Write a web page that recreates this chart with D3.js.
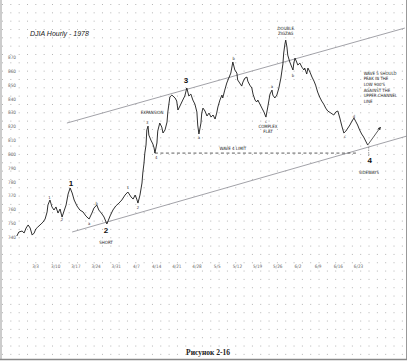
<!DOCTYPE html>
<html>
<head>
<meta charset="utf-8">
<script src="https://cdn.jsdelivr.net/npm/d3@7/dist/d3.min.js"></script>
<style>
  body { margin: 0; background: #fff; }
  svg { display: block; }
</style>
</head>
<body>
<svg id="chart" width="410" height="362"></svg>
<script>
// price axis labels
const priceTicks = [740, 750, 760, 770, 780, 790, 800, 810, 820, 830, 840, 850, 860, 870];
// date axis: trading day of each label + its text
const tickDays = [0, 5, 10, 15, 20, 25, 30, 35, 40, 45, 50, 55, 60, 65, 70, 75, 80];
const dateLabels = ["3/3", "3/10", "3/17", "3/24", "3/31", "4/7", "4/14", "4/21", "4/28",
  "5/5", "5/12", "5/19", "5/26", "6/2", "6/9", "6/16", "6/23"];

// hourly DJIA (trading day, index value)
const djiaDays = [-4.5, -4.0, -3.2, -2.7, -2.2, -1.7, -1.2, -0.7, -0.2, 0.2, 0.7, 1.5, 2.0, 2.5, 3.0, 3.2,
  3.7, 4.2, 4.7, 5.2, 5.7, 6.2, 6.7, 7.2, 7.7, 8.2, 8.7, 9.2, 9.7, 10.4, 11.1, 11.9, 12.6, 13.4, 14.1,
  14.6, 15.3, 15.8, 16.6, 17.1, 17.6, 17.8, 18.6, 19.3, 20.0, 20.8, 21.5, 22.3, 23.0, 23.8, 24.3, 24.8,
  25.2, 25.5, 26.0, 26.5, 26.7, 27.0, 27.2, 27.5, 27.7, 28.0, 28.2, 28.7, 29.2, 29.5, 29.7, 30.2, 30.4,
  30.9, 31.4, 31.7, 32.2, 32.7, 32.9, 33.4, 33.9, 34.7, 35.1, 35.4, 35.9, 36.6, 37.1, 37.6, 38.1, 38.6,
  39.1, 39.6, 40.1, 40.3, 40.6, 41.1, 41.3, 41.6, 42.1, 42.6, 43.1, 43.6, 44.1, 44.6, 45.0, 45.3, 45.8,
  46.3, 46.5, 47.0, 47.5, 48.0, 48.5, 49.0, 49.5, 50.0, 50.2, 50.7, 51.2, 51.5, 52.0, 52.5, 52.7, 53.2,
  53.7, 54.0, 54.5, 54.9, 55.2, 55.7, 56.2, 56.7, 57.2, 57.7, 58.2, 58.7, 58.9, 59.4, 59.9, 60.4, 60.9,
  61.4, 61.6, 61.9, 62.1, 62.4, 62.6, 63.1, 63.6, 63.9, 64.1, 64.4, 64.8, 65.1, 65.6, 66.1, 66.6, 66.8,
  67.3, 67.6, 68.1, 68.6, 69.1, 69.5, 70.0, 70.5, 71.0, 71.5, 72.0, 72.5, 73.3, 74.0, 74.5, 75.0, 75.5,
  76.0, 76.5, 77.0, 77.5, 78.0, 78.5, 79.0, 79.4, 79.9, 80.4, 80.9, 81.4, 81.9, 82.4];
const djiaValues = [740.7, 743.6, 744.3, 742.9, 746.5, 748.7, 746.5, 741.4, 742.9, 745.8, 747.2, 749.4,
  750.8, 753.0, 758.1, 763.1, 766.7, 761.7, 759.5, 761.7, 757.3, 760.2, 754.4, 758.8, 763.1, 771.0,
  775.4, 771.8, 766.7, 762.4, 759.5, 758.1, 755.2, 753.0, 757.3, 760.9, 763.1, 759.5, 756.6, 754.4,
  750.8, 749.4, 755.2, 759.5, 762.4, 764.5, 766.7, 770.3, 772.5, 768.9, 767.4, 770.3, 767.4, 764.5,
  770.3, 779.0, 786.2, 793.4, 800.6, 806.4, 817.3, 820.1, 813.6, 810.0, 807.1, 804.3, 800.6, 807.9,
  816.5, 822.3, 819.4, 815.1, 817.3, 823.0, 830.3, 841.1, 842.5, 840.4, 838.2, 831.7, 834.6, 838.9,
  841.8, 847.6, 841.8, 843.2, 838.9, 836.0, 830.3, 820.9, 814.4, 822.3, 829.5, 833.1, 831.0, 827.4,
  829.5, 826.6, 828.1, 825.2, 829.5, 833.9, 838.9, 842.5, 840.4, 846.1, 851.2, 854.8, 858.4, 866.4,
  860.6, 858.4, 853.4, 851.2, 849.0, 851.9, 854.8, 855.5, 852.6, 849.7, 847.6, 843.2, 838.9, 837.5,
  838.9, 836.0, 833.1, 830.3, 826.6, 834.6, 843.2, 846.1, 842.5, 840.4, 842.5, 847.6, 854.8, 864.9,
  872.9, 879.3, 882.2, 877.2, 871.4, 866.4, 862.7, 860.6, 865.6, 869.2, 866.4, 864.2, 865.6, 862.7,
  860.6, 862.0, 857.7, 862.0, 859.1, 855.5, 852.6, 849.7, 844.7, 841.1, 838.2, 836.0, 833.1, 831.0,
  829.5, 828.1, 830.3, 831.0, 825.9, 820.1, 815.1, 816.5, 818.7, 820.9, 823.7, 825.9, 823.7, 820.9,
  817.3, 814.4, 812.2, 809.3, 806.4];

// trend channel and guide lines
const upperChannel = [[7.9, 822.3], [91.6, 890.9]];
const lowerChannel = [[9.2, 743.6], [92.1, 812.9]];
const wave4Limit = [[29.7, 800.6], [79.7, 800.6]];
const wave5Projection = [[82.4, 806.4], [85.6, 819.4]];

// main wave counts
const waveLabels = ["1", "2", "3", "4"];
const waveLabelDays = [8.9, 17.6, 37.4, 82.9];
const waveLabelValues = [779.0, 745.1, 853.4, 795.6];

// small sub-wave marks
const subLabels = ["1", "2", "a", "b", "1", "2", "3", "4", "a", "b", "c", "a", "b", "c", "d"];
const subLabelDays = [3.6, 6.7, 13.4, 15.3, 23.0, 25.5, 27.8, 30.0, 40.6, 49.2, 57.2, 58.7, 63.9, 76.8, 79.0];
const subLabelValues = [768.5, 752.5, 750.0, 764.5, 775.5, 761.5, 823.0, 797.5, 811.5, 869.0, 823.5, 848.5, 856.5, 812.5, 827.0];

// notes written on the chart
const notes = [
  { lines: ["EXPANSION"], d: 29.0, v: 830.3, anchor: "middle" },
  { lines: ["WAVE 4 LIMIT"], d: 49.0, v: 804.3, anchor: "middle" },
  { lines: ["COMPLEX", "FLAT"], d: 57.7, v: 820.1, anchor: "middle" },
  { lines: ["DOUBLE", "ZIGZAG"], d: 62.1, v: 890.9, anchor: "middle" },
  { lines: ["SHORT"], d: 17.6, v: 736.4, anchor: "middle" },
  { lines: ["SIDEWAYS"], d: 82.7, v: 786.9, anchor: "middle" },
  { lines: ["WAVE 5 SHOULD", "PEAK IN THE", "LOW 900'S", "AGAINST THE", "UPPER CHANNEL", "LINE"],
    d: 81.4, v: 858.4, anchor: "start" }
];

const W = 410, H = 362;
const svg = d3.select("#chart");

const x = d3.scaleLinear().domain([0, 80]).range([35, 358]);
const y = d3.scaleLinear().domain([740, 870]).range([237, 57]);

// paper: dotted grid + frame
const grid = svg.append("g").attr("fill", "#b4b4b4");
for (let gx = 2; gx < W - 4; gx += 8.33) {
  for (let gy = 4; gy < H - 4; gy += 8.33) {
    grid.append("rect").attr("x", gx).attr("y", gy).attr("width", 1).attr("height", 1);
  }
}
svg.append("line").attr("x1", 1).attr("x2", 1).attr("y1", 0).attr("y2", 359)
  .attr("stroke", "#999").attr("stroke-width", 1);
svg.append("line").attr("x1", 406.5).attr("x2", 406.5).attr("y1", 0).attr("y2", 359)
  .attr("stroke", "#999").attr("stroke-width", 1);
svg.append("line").attr("x1", 0).attr("x2", 407).attr("y1", 359.5).attr("y2", 359.5)
  .attr("stroke", "#888").attr("stroke-width", 1.5);

const smallFont = "'DejaVu Sans Condensed', 'DejaVu Sans', sans-serif";

// price labels (no axis line on the original)
const yAxis = d3.axisLeft(y).tickValues(priceTicks).tickSize(0).tickPadding(0);
const gy = svg.append("g").attr("transform", "translate(16,0)").call(yAxis);
gy.select(".domain").remove();
gy.selectAll("text").attr("font-family", smallFont).attr("font-size", 4.6)
  .attr("fill", "#666").attr("text-anchor", "end");

// date labels
const xAxis = d3.axisBottom(x).tickValues(tickDays).tickSize(0).tickPadding(0)
  .tickFormat((d, i) => dateLabels[i]);
const gx = svg.append("g").attr("transform", "translate(0,265)").call(xAxis);
gx.select(".domain").remove();
gx.selectAll("text").attr("font-family", smallFont).attr("font-size", 4.6).attr("fill", "#666");

// title
svg.append("text").attr("x", 30).attr("y", 36)
  .attr("font-family", "'Liberation Sans', Arial, sans-serif").attr("font-size", 7)
  .attr("font-style", "italic").attr("fill", "#222").text("DJIA Hourly - 1978");

const line = d3.line().x(d => x(d[0])).y(d => y(d[1]));

// channel lines
svg.append("path").datum(upperChannel).attr("d", line)
  .attr("fill", "none").attr("stroke", "#8a8a92").attr("stroke-width", 0.8);
svg.append("path").datum(lowerChannel).attr("d", line)
  .attr("fill", "none").attr("stroke", "#8a8a92").attr("stroke-width", 0.8);

// wave 4 limit dashed
svg.append("path").datum(wave4Limit).attr("d", line)
  .attr("fill", "none").attr("stroke", "#333").attr("stroke-width", 0.8)
  .attr("stroke-dasharray", "3,2.5");

// price path
const prices = djiaDays.map((d, i) => [d, djiaValues[i]]);
svg.append("path").datum(prices).attr("d", line)
  .attr("fill", "none").attr("stroke", "#1a1a1a").attr("stroke-width", 0.9)
  .attr("stroke-linejoin", "round");

// projected wave 5 with arrow head
svg.append("defs").append("marker").attr("id", "arr")
  .attr("viewBox", "0 0 10 10").attr("refX", 9).attr("refY", 5)
  .attr("markerWidth", 4).attr("markerHeight", 4).attr("orient", "auto")
  .append("path").attr("d", "M0,0L10,5L0,10z").attr("fill", "#333");
svg.append("path").datum(wave5Projection).attr("d", line)
  .attr("fill", "none").attr("stroke", "#333").attr("stroke-width", 0.8)
  .attr("marker-end", "url(#arr)");

// pointer from wave 4 low to its label
const w4 = wave5Projection[0];
svg.append("line").attr("x1", x(w4[0]) + 1).attr("x2", x(w4[0]) + 1)
  .attr("y1", y(w4[1]) + 2).attr("y2", y(waveLabelValues[3]) - 4)
  .attr("stroke", "#555").attr("stroke-width", 0.6).attr("stroke-dasharray", "1.5,1");

// wave numbers
svg.append("g").selectAll("text").data(waveLabels).join("text")
  .attr("x", (d, i) => x(waveLabelDays[i]))
  .attr("y", (d, i) => y(waveLabelValues[i]))
  .attr("dy", "0.35em").attr("text-anchor", "middle")
  .attr("font-family", "'Liberation Sans', Arial, sans-serif").attr("font-weight", "bold")
  .attr("font-size", 8).attr("fill", "#111").text(d => d);

// sub-wave marks
svg.append("g").selectAll("text").data(subLabels).join("text")
  .attr("x", (d, i) => x(subLabelDays[i]))
  .attr("y", (d, i) => y(subLabelValues[i]))
  .attr("dy", "0.35em").attr("text-anchor", "middle")
  .attr("font-family", smallFont).attr("font-size", 4.2).attr("fill", "#333").text(d => d);

// notes
notes.forEach(n => {
  const t = svg.append("text")
    .attr("x", x(n.d)).attr("y", y(n.v))
    .attr("dy", "0.35em").attr("text-anchor", n.anchor)
    .attr("font-family", smallFont).attr("font-size", 4.4).attr("fill", "#222");
  n.lines.forEach((l, i) => {
    t.append("tspan").attr("x", x(n.d)).attr("dy", i === 0 ? "0.35em" : "1.3em").text(l);
  });
});

// caption
svg.append("text").attr("x", 208).attr("y", 355).attr("text-anchor", "middle")
  .attr("font-family", "'Liberation Serif', 'DejaVu Serif', serif").attr("font-weight", "bold")
  .attr("font-size", 7.5).attr("fill", "#222").text("Рисунок 2-16");
</script>
</body>
</html>
